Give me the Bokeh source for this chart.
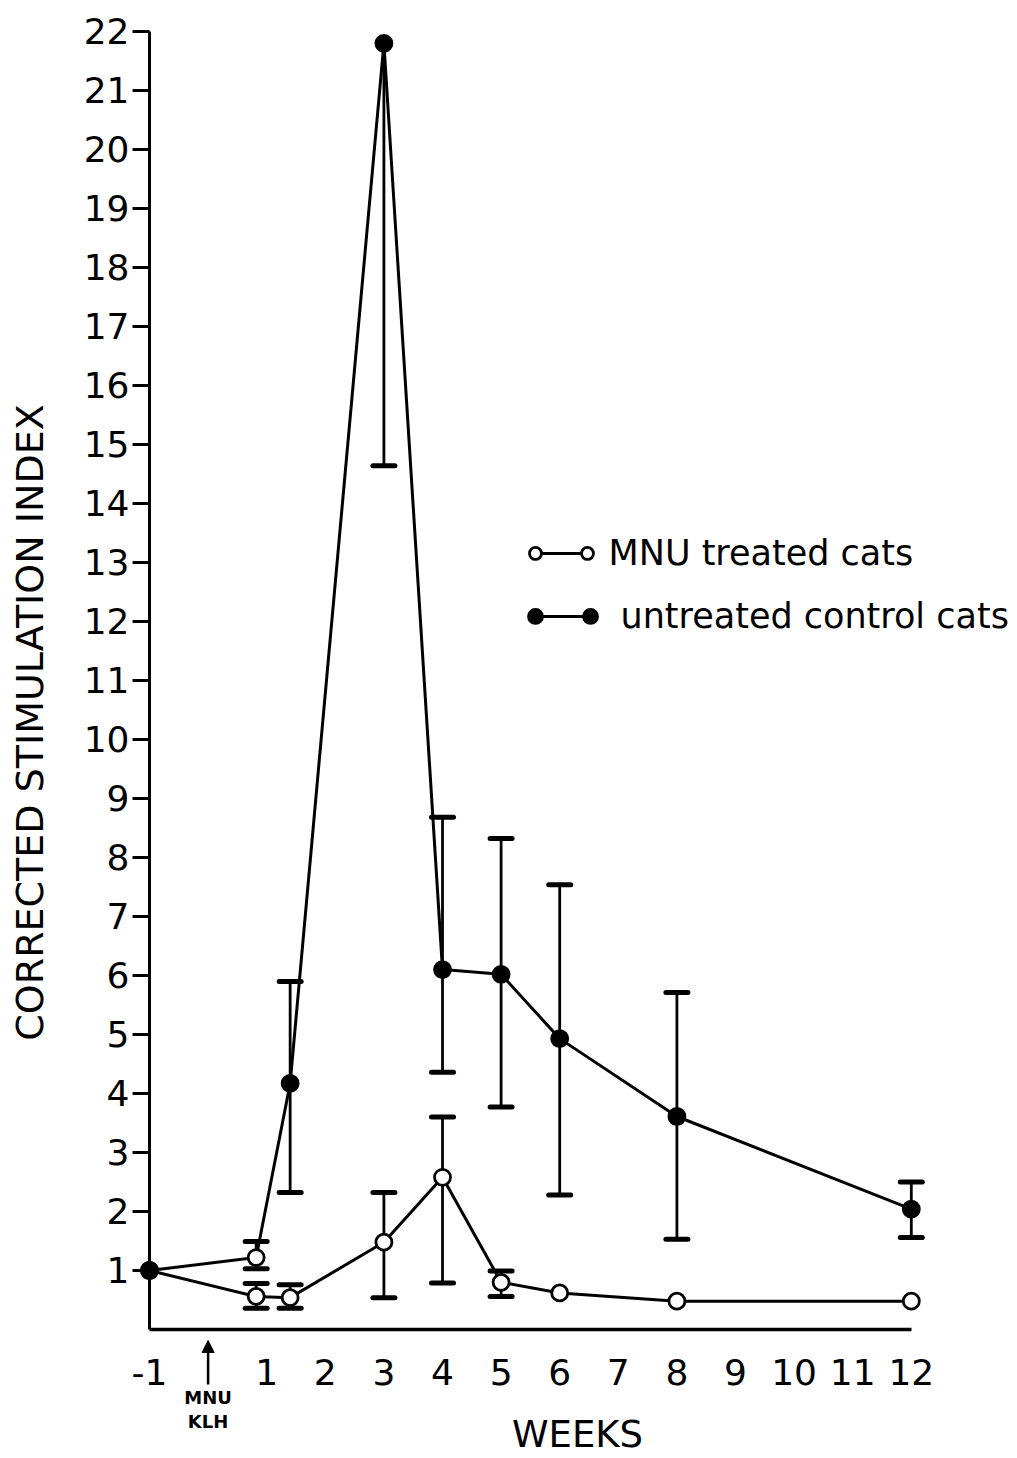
import math
from bokeh.plotting import figure
from bokeh.models import Range1d, FixedTicker, Label, Arrow, NormalHead
from bokeh.embed import file_html
from bokeh.resources import INLINE

nan = float("nan")

# ---------------- data ----------------
weeks = [-1, 0.82, 1.4, 3, 4, 5, 6, 8, 12]

mnu_mean = [1.0, 0.56, 0.54, 1.48, 2.58, 0.80, 0.62, 0.48, 0.48]
mnu_low = [nan, 0.36, 0.36, 0.54, 0.79, 0.56, nan, nan, nan]
mnu_high = [nan, 0.78, 0.76, 2.32, 3.60, 0.99, nan, nan, nan]

ctrl_mean = [1.0, 1.22, 4.17, 21.8, 6.10, 6.02, 4.93, 3.61, 2.04]
ctrl_low = [nan, 1.03, 2.32, 14.64, 4.36, 3.77, 2.28, 1.53, 1.56]
ctrl_high = [nan, 1.49, 5.90, nan, 8.68, 8.32, 7.54, 5.71, 2.50]

x_ticks = [-1, 1, 2, 3, 4, 5, 6, 7, 8, 9, 10, 11, 12]
x_tick_labels = ["-1", "1", "2", "3", "4", "5", "6", "7", "8", "9", "10", "11", "12"]
y_ticks = [1, 2, 3, 4, 5, 6, 7, 8, 9, 10, 11, 12, 13, 14, 15, 16, 17, 18, 19, 20, 21, 22]

series_names = ["MNU treated cats", "untreated control cats"]
x_title = "WEEKS"
y_title = "CORRECTED STIMULATION INDEX"
event_lines = ["MNU", "KLH"]
event_week = 0

FONT = "DejaVu Sans"
W, H = 1016, 1458

p = figure(
    width=W, height=H,
    frame_width=W, frame_height=H,
    min_border_left=0, min_border_right=0, min_border_top=0, min_border_bottom=0,
    x_range=Range1d(-3.5427, 13.795), y_range=Range1d(-2.1864, 22.525),
    output_backend="svg", toolbar_location=None,
)
p.grid.visible = False
p.outline_line_color = None
p.background_fill_color = "white"
p.border_fill_color = "white"

# x axis pinned at y = 0
p.xaxis.fixed_location = 0
p.xaxis.bounds = (x_ticks[0], x_ticks[-1])
p.xaxis.ticker = FixedTicker(ticks=x_ticks)
p.xaxis.major_label_overrides = dict(zip(x_ticks, x_tick_labels))
p.xaxis.axis_line_width = 3.5
p.xaxis.axis_line_color = "black"
p.xaxis.major_tick_line_color = None
p.xaxis.minor_tick_line_color = None
p.xaxis.major_tick_in = 0
p.xaxis.major_tick_out = 0
p.xaxis.major_label_standoff = 29
p.xaxis.major_label_text_font = FONT
p.xaxis.major_label_text_font_size = "36px"
p.xaxis.major_label_text_color = "black"

# y axis pinned at the first week
p.yaxis.fixed_location = x_ticks[0]
p.yaxis.bounds = (0, y_ticks[-1])
p.yaxis.ticker = FixedTicker(ticks=y_ticks)
p.yaxis.axis_line_width = 3
p.yaxis.axis_line_color = "black"
p.yaxis.minor_tick_line_color = None
p.yaxis.major_tick_in = 0
p.yaxis.major_tick_out = 17
p.yaxis.major_tick_line_width = 3
p.yaxis.major_tick_line_color = "black"
p.yaxis.major_label_standoff = 3
p.yaxis.major_label_text_font = FONT
p.yaxis.major_label_text_font_size = "36px"
p.yaxis.major_label_text_color = "black"

# data lines
p.line(weeks, mnu_mean, line_width=3, line_color="black")
p.line(weeks, ctrl_mean, line_width=3, line_color="black")


def error_parts(xs, mean, low, high):
    sx, sy0, sy1, cx, cy = [], [], [], [], []
    for x, m, lo, hi in zip(xs, mean, low, high):
        if math.isnan(lo) and math.isnan(hi):
            continue
        a = m if math.isnan(lo) else lo
        b = m if math.isnan(hi) else hi
        sx.append(x); sy0.append(a); sy1.append(b)
        if not math.isnan(lo):
            cx.append(x); cy.append(lo)
        if not math.isnan(hi):
            cx.append(x); cy.append(hi)
    return sx, sy0, sy1, cx, cy


for mean, low, high in [(mnu_mean, mnu_low, mnu_high), (ctrl_mean, ctrl_low, ctrl_high)]:
    sx, sy0, sy1, cx, cy = error_parts(weeks, mean, low, high)
    p.segment(x0=sx, y0=sy0, x1=sx, y1=sy1, line_width=2.8, line_color="black")
    p.scatter(cx, cy, marker="dash", size=22, line_width=5, line_color="black",
              line_cap="round")

# markers
p.scatter(weeks, mnu_mean, marker="circle", size=16, fill_color="white",
          line_color="black", line_width=2.8)
ctrl_fill = ["black", "white", "black", "black", "black", "black", "black", "black", "black"]
p.scatter(weeks, ctrl_mean, marker="circle", size=16, fill_color=ctrl_fill,
          line_color="black", line_width=2.8)

# legend (drawn by hand: marker - line - marker)
leg_rows = [(13.153, "white", 12, 6.474), (12.085, "black", 14, 6.526)]
for (ly, fill, msz, x_end), name, tx in zip(leg_rows, series_names, [6.833, 7.037]):
    p.line([5.587, x_end], [ly, ly], line_width=3, line_color="black")
    p.scatter([5.587, x_end], [ly, ly], marker="circle", size=msz, fill_color=fill,
              line_color="black", line_width=2.8)
    p.add_layout(Label(x=tx, y=ly, text=name, text_font=FONT, text_font_size="35px",
                       text_baseline="middle", text_align="left", text_color="black"))

# axis titles
p.add_layout(Label(x=6.304, y=-1.78, text=x_title, text_font=FONT, text_font_size="37px",
                   text_align="center", text_baseline="middle", text_color="black"))
p.add_layout(Label(x=-3.031, y=10.288, text=y_title, text_font=FONT, text_font_size="38px",
                   angle=math.pi / 2, text_align="center", text_baseline="middle",
                   text_color="black"))

# treatment arrow and note
p.add_layout(Arrow(end=NormalHead(size=12, fill_color="black", line_color="black"),
                   x_start=event_week, y_start=-0.932, x_end=event_week, y_end=-0.186,
                   line_width=2.5, line_color="black"))
for txt, ly in zip(event_lines, [-1.153, -1.559]):
    p.add_layout(Label(x=event_week, y=ly, text=txt, text_font=FONT, text_font_size="18px",
                       text_font_style="bold", text_align="center", text_baseline="middle",
                       text_color="black"))

open("out.html", "w").write(file_html(p, INLINE))
